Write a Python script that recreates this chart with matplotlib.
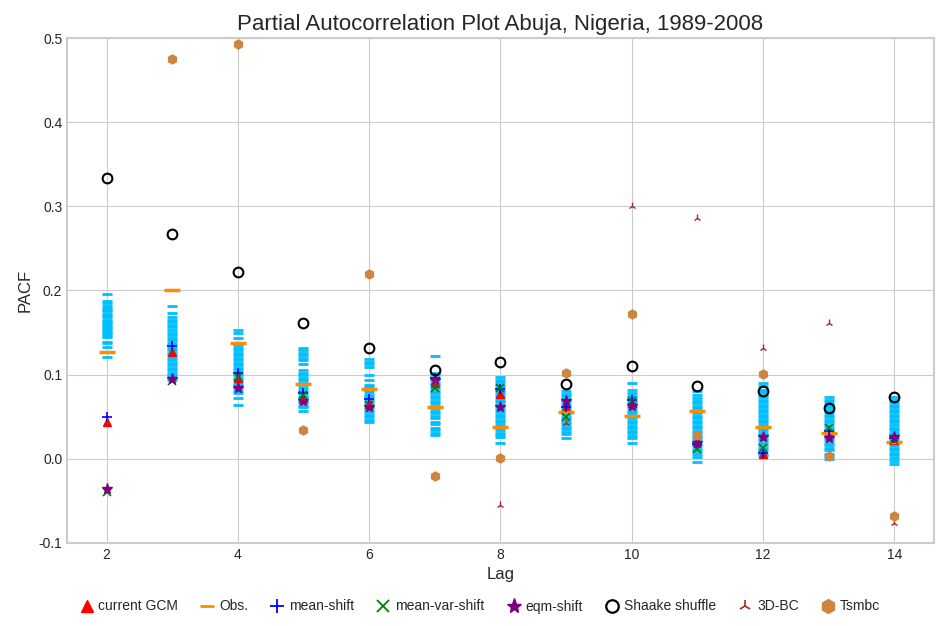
import numpy as np
import matplotlib
matplotlib.use('Agg')
import matplotlib.pyplot as plt
from matplotlib.lines import Line2D

plt.style.use('seaborn-v0_8-whitegrid')
plt.rcParams['font.family'] = ['Liberation Sans', 'DejaVu Sans']
plt.rcParams['axes.unicode_minus'] = False

lags = [2, 3, 4, 5, 6, 7, 8, 9, 10, 11, 12, 13, 14]

obs = [0.127, 0.200, 0.137, 0.089, 0.083, 0.061, 0.038, 0.055, 0.051, 0.057, 0.038, 0.031, 0.020]
current_gcm = [0.043, 0.127, 0.096, 0.072, 0.066, 0.090, 0.077, 0.061, 0.066, 0.021, 0.005, 0.030, 0.022]
mean_shift = [0.050, 0.134, 0.102, 0.078, 0.071, 0.096, 0.083, 0.062, 0.070, 0.017, 0.007, 0.033, 0.024]
mean_var_shift = [-0.040, 0.092, 0.097, 0.076, 0.064, 0.084, 0.084, 0.050, 0.068, 0.011, 0.013, 0.037, 0.022]
eqm_shift = [-0.036, 0.095, 0.084, 0.068, 0.062, 0.094, 0.061, 0.068, 0.063, 0.019, 0.026, 0.025, 0.026]
shaake = [0.334, 0.267, 0.222, 0.161, 0.132, 0.105, 0.115, 0.089, 0.110, 0.086, 0.080, 0.060, 0.073]
bc3d = [0.043, 0.127, 0.096, 0.072, 0.066, 0.090, -0.055, 0.042, 0.300, 0.286, 0.132, 0.161, -0.076]
tsmbc = [np.nan, 0.475, 0.493, 0.034, 0.219, -0.021, 0.001, 0.102, 0.172, 0.028, 0.101, 0.003, -0.068]

# GCM ensemble members (light blue dashes), one list per lag
ens = {
    2: [0.196, 0.188, 0.185, 0.181, 0.179, 0.177, 0.175, 0.172, 0.170, 0.168, 0.165, 0.163, 0.161,
        0.159, 0.157, 0.155, 0.153, 0.151, 0.149, 0.147, 0.145, 0.139, 0.137, 0.133, 0.121],
    3: [0.182, 0.173, 0.169, 0.165, 0.162, 0.159, 0.156, 0.153, 0.150, 0.147, 0.144, 0.141, 0.138,
        0.135, 0.132, 0.129, 0.126, 0.123, 0.120, 0.117, 0.114, 0.111, 0.108, 0.105, 0.102, 0.099,
        0.096, 0.093],
    4: [0.153, 0.150, 0.144, 0.138, 0.135, 0.132, 0.129, 0.126, 0.123, 0.120, 0.117, 0.114, 0.111,
        0.108, 0.105, 0.102, 0.099, 0.096, 0.093, 0.090, 0.087, 0.084, 0.081, 0.078, 0.072, 0.064],
    5: [0.132, 0.129, 0.126, 0.123, 0.120, 0.117, 0.112, 0.106, 0.102, 0.099, 0.096, 0.093, 0.090,
        0.087, 0.084, 0.081, 0.078, 0.075, 0.072, 0.069, 0.066, 0.063, 0.061, 0.057],
    6: [0.118, 0.115, 0.112, 0.109, 0.100, 0.094, 0.088, 0.085, 0.082, 0.079, 0.076, 0.073, 0.070,
        0.067, 0.064, 0.061, 0.058, 0.055, 0.052, 0.049, 0.046, 0.044],
    7: [0.122, 0.102, 0.099, 0.096, 0.093, 0.090, 0.087, 0.084, 0.081, 0.078, 0.075, 0.072, 0.069,
        0.066, 0.063, 0.060, 0.057, 0.054, 0.051, 0.048, 0.044, 0.041, 0.037, 0.034, 0.031, 0.028],
    8: [0.097, 0.094, 0.091, 0.088, 0.085, 0.082, 0.079, 0.076, 0.073, 0.070, 0.067, 0.064, 0.061,
        0.058, 0.055, 0.052, 0.049, 0.046, 0.043, 0.040, 0.037, 0.034, 0.031, 0.028, 0.026, 0.019],
    9: [0.080, 0.077, 0.074, 0.071, 0.068, 0.065, 0.062, 0.059, 0.056, 0.053, 0.050, 0.047, 0.044,
        0.041, 0.038, 0.035, 0.032, 0.029, 0.025],
    10: [0.090, 0.082, 0.078, 0.075, 0.072, 0.069, 0.066, 0.063, 0.060, 0.057, 0.054, 0.051, 0.048,
         0.045, 0.042, 0.039, 0.036, 0.033, 0.030, 0.027, 0.024, 0.019],
    11: [0.081, 0.076, 0.072, 0.069, 0.066, 0.063, 0.060, 0.057, 0.054, 0.051, 0.048, 0.045, 0.042,
         0.039, 0.036, 0.033, 0.030, 0.027, 0.024, 0.021, 0.018, 0.015, 0.012, 0.009, 0.006, 0.002,
         -0.004],
    12: [0.090, 0.086, 0.082, 0.079, 0.076, 0.073, 0.070, 0.067, 0.064, 0.061, 0.058, 0.055, 0.052,
         0.049, 0.046, 0.043, 0.040, 0.037, 0.034, 0.031, 0.028, 0.025, 0.022, 0.019, 0.016, 0.013,
         0.010, 0.006, 0.003],
    13: [0.073, 0.070, 0.067, 0.064, 0.061, 0.058, 0.055, 0.052, 0.049, 0.046, 0.043, 0.040, 0.037,
         0.034, 0.031, 0.028, 0.025, 0.022, 0.019, 0.016, 0.013, 0.010, 0.006, 0.003, 0.000],
    14: [0.073, 0.070, 0.067, 0.064, 0.061, 0.058, 0.055, 0.052, 0.049, 0.046, 0.043, 0.040, 0.037,
         0.034, 0.031, 0.028, 0.025, 0.022, 0.019, 0.016, 0.013, 0.010, 0.007, 0.004, 0.001, -0.003,
         -0.006],
}

fig = plt.figure(figsize=(9.46, 6.26), dpi=100)
ax = fig.add_axes([0.071, 0.133, 0.916, 0.806])

for lag, vals in ens.items():
    ax.plot([lag] * len(vals), vals, ls='none', marker='_', color='deepskyblue', ms=6.5, mew=2)

ax.plot(lags, current_gcm, ls='none', marker='^', color='red', ms=6)
ax.plot(lags, obs, ls='none', marker='_', color='darkorange', ms=12, mew=2.5)
ax.plot(lags, mean_shift, ls='none', marker='+', color='blue', ms=7, mew=1.2)
ax.plot(lags, mean_var_shift, ls='none', marker='x', color='green', ms=6, mew=1.2)
ax.plot(lags, eqm_shift, ls='none', marker='*', color='purple', ms=8)
ax.plot(lags, shaake, ls='none', marker='o', mfc='none', mec='black', ms=7, mew=1.5)
ax.plot(lags, bc3d, ls='none', marker='2', color='brown', ms=6, mew=1)
ax.plot(lags, tsmbc, ls='none', marker='h', color='peru', ms=6.5)

ax.set_xlim(1.4, 14.6)
ax.set_ylim(-0.1, 0.5)
ax.set_xticks([2, 4, 6, 8, 10, 12, 14])
ax.set_yticks([-0.1, 0.0, 0.1, 0.2, 0.3, 0.4, 0.5])
ax.tick_params(labelsize=10)
ax.set_xlabel('Lag', fontsize=12)
ax.set_ylabel('PACF', fontsize=12)
ax.set_title('Partial Autocorrelation Plot Abuja, Nigeria, 1989-2008', fontsize=16)
for s in ax.spines.values():
    s.set_edgecolor('0.8')
    s.set_linewidth(1.5)

handles = [
    Line2D([], [], ls='none', marker='^', color='red', ms=9, label='current GCM'),
    Line2D([], [], ls='none', marker='_', color='darkorange', ms=10, mew=2, label='Obs.'),
    Line2D([], [], ls='none', marker='+', color='blue', ms=10, mew=1.3, label='mean-shift'),
    Line2D([], [], ls='none', marker='x', color='green', ms=9, mew=1.3, label='mean-var-shift'),
    Line2D([], [], ls='none', marker='*', color='purple', ms=11, label='eqm-shift'),
    Line2D([], [], ls='none', marker='o', mfc='none', mec='black', ms=9, mew=1.6, label='Shaake shuffle'),
    Line2D([], [], ls='none', marker='2', color='brown', ms=9, mew=1.2, label='3D-BC'),
    Line2D([], [], ls='none', marker='h', color='peru', ms=10, label='Tsmbc'),
]
fig.legend(handles=handles, loc='lower center', bbox_to_anchor=(0.507, 0.0), ncol=8, frameon=False,
           fontsize=10, handlelength=1.0, handletextpad=0.35, columnspacing=1.6)

fig.savefig('out.png', dpi=100)
